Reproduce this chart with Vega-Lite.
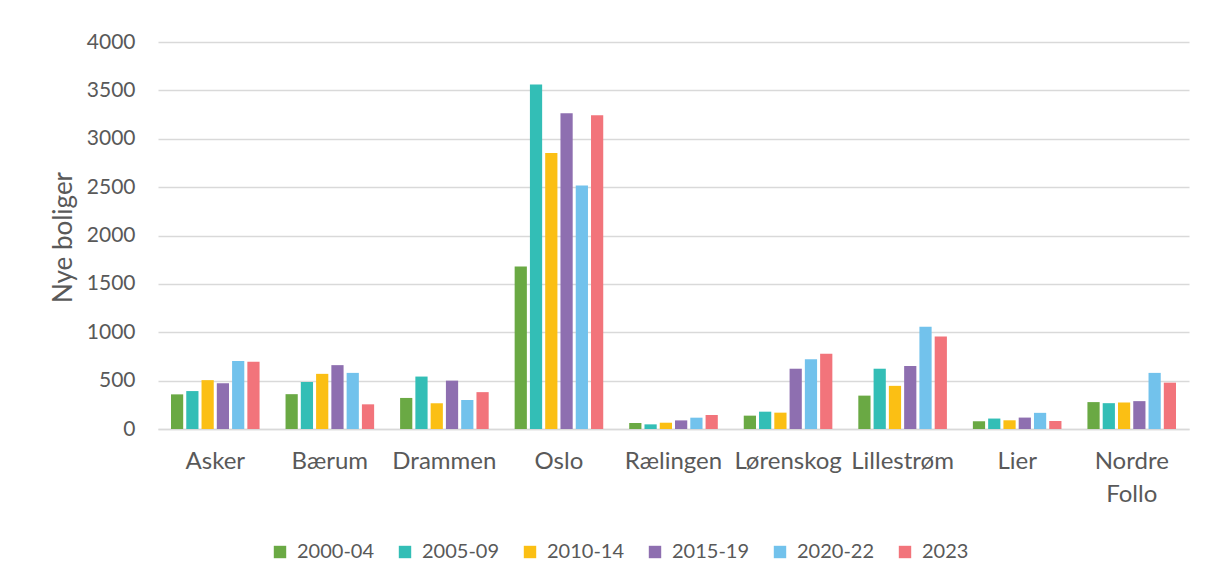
{
  "$schema": "https://vega.github.io/schema/vega-lite/v6.json",
  "width": 1031,
  "height": 387,
  "autosize": {"type": "none"},
  "padding": {"left": 158, "top": 42, "right": 17, "bottom": 152},
  "background": "white",
  "config": {
    "view": {"stroke": null},
    "font": "Lato",
    "axis": {"labelFont": "Lato", "titleFont": "Lato", "labelColor": "#595959", "titleColor": "#595959"},
    "legend": {"labelFont": "Lato"}
  },
  "data": {
    "values": [
      {"kommune": "Asker", "periode": "2000-04", "boliger": 358},
      {"kommune": "Asker", "periode": "2005-09", "boliger": 392},
      {"kommune": "Asker", "periode": "2010-14", "boliger": 505},
      {"kommune": "Asker", "periode": "2015-19", "boliger": 473},
      {"kommune": "Asker", "periode": "2020-22", "boliger": 702},
      {"kommune": "Asker", "periode": "2023", "boliger": 696},
      {"kommune": "Bærum", "periode": "2000-04", "boliger": 360},
      {"kommune": "Bærum", "periode": "2005-09", "boliger": 486},
      {"kommune": "Bærum", "periode": "2010-14", "boliger": 570},
      {"kommune": "Bærum", "periode": "2015-19", "boliger": 660},
      {"kommune": "Bærum", "periode": "2020-22", "boliger": 580},
      {"kommune": "Bærum", "periode": "2023", "boliger": 255},
      {"kommune": "Drammen", "periode": "2000-04", "boliger": 321},
      {"kommune": "Drammen", "periode": "2005-09", "boliger": 542},
      {"kommune": "Drammen", "periode": "2010-14", "boliger": 266},
      {"kommune": "Drammen", "periode": "2015-19", "boliger": 500},
      {"kommune": "Drammen", "periode": "2020-22", "boliger": 300},
      {"kommune": "Drammen", "periode": "2023", "boliger": 381},
      {"kommune": "Oslo", "periode": "2000-04", "boliger": 1679},
      {"kommune": "Oslo", "periode": "2005-09", "boliger": 3561},
      {"kommune": "Oslo", "periode": "2010-14", "boliger": 2854},
      {"kommune": "Oslo", "periode": "2015-19", "boliger": 3264},
      {"kommune": "Oslo", "periode": "2020-22", "boliger": 2517},
      {"kommune": "Oslo", "periode": "2023", "boliger": 3244},
      {"kommune": "Rælingen", "periode": "2000-04", "boliger": 62},
      {"kommune": "Rælingen", "periode": "2005-09", "boliger": 48},
      {"kommune": "Rælingen", "periode": "2010-14", "boliger": 65},
      {"kommune": "Rælingen", "periode": "2015-19", "boliger": 89},
      {"kommune": "Rælingen", "periode": "2020-22", "boliger": 117},
      {"kommune": "Rælingen", "periode": "2023", "boliger": 145},
      {"kommune": "Lørenskog", "periode": "2000-04", "boliger": 138},
      {"kommune": "Lørenskog", "periode": "2005-09", "boliger": 179},
      {"kommune": "Lørenskog", "periode": "2010-14", "boliger": 169},
      {"kommune": "Lørenskog", "periode": "2015-19", "boliger": 623},
      {"kommune": "Lørenskog", "periode": "2020-22", "boliger": 722},
      {"kommune": "Lørenskog", "periode": "2023", "boliger": 778},
      {"kommune": "Lillestrøm", "periode": "2000-04", "boliger": 345},
      {"kommune": "Lillestrøm", "periode": "2005-09", "boliger": 623},
      {"kommune": "Lillestrøm", "periode": "2010-14", "boliger": 446},
      {"kommune": "Lillestrøm", "periode": "2015-19", "boliger": 651},
      {"kommune": "Lillestrøm", "periode": "2020-22", "boliger": 1057},
      {"kommune": "Lillestrøm", "periode": "2023", "boliger": 957},
      {"kommune": "Lier", "periode": "2000-04", "boliger": 80},
      {"kommune": "Lier", "periode": "2005-09", "boliger": 108},
      {"kommune": "Lier", "periode": "2010-14", "boliger": 90},
      {"kommune": "Lier", "periode": "2015-19", "boliger": 118},
      {"kommune": "Lier", "periode": "2020-22", "boliger": 167},
      {"kommune": "Lier", "periode": "2023", "boliger": 83},
      {"kommune": "Nordre Follo", "periode": "2000-04", "boliger": 278},
      {"kommune": "Nordre Follo", "periode": "2005-09", "boliger": 267},
      {"kommune": "Nordre Follo", "periode": "2010-14", "boliger": 274},
      {"kommune": "Nordre Follo", "periode": "2015-19", "boliger": 288},
      {"kommune": "Nordre Follo", "periode": "2020-22", "boliger": 580},
      {"kommune": "Nordre Follo", "periode": "2023", "boliger": 479}
    ]
  },
  "mark": {"type": "bar"},
  "encoding": {
    "x": {
      "field": "kommune",
      "type": "nominal",
      "sort": null,
      "scale": {"paddingInner": 0.2, "paddingOuter": 0.1},
      "axis": {
        "title": null,
        "labelAngle": 0,
        "labelFontSize": 24,
        "labelPadding": 20,
        "labelLineHeight": 33,
        "labelExpr": "split(datum.label, ' ')",
        "ticks": false,
        "domain": true,
        "domainColor": "#D9D9D9",
        "domainWidth": 1.3
      }
    },
    "xOffset": {
      "field": "periode",
      "type": "nominal",
      "sort": null,
      "scale": {"paddingInner": 0.2, "paddingOuter": 0.1}
    },
    "y": {
      "field": "boliger",
      "type": "quantitative",
      "scale": {"domain": [0, 4000], "nice": false},
      "axis": {
        "title": "Nye boliger",
        "titleFontSize": 26,
        "titleFontWeight": "normal",
        "titleAngle": -90,
        "titleX": -95,
        "titleY": 195,
        "titleAlign": "center",
        "titleBaseline": "middle",
        "values": [0, 500, 1000, 1500, 2000, 2500, 3000, 3500, 4000],
        "format": "d",
        "labelFontSize": 21,
        "labelPadding": 23,
        "ticks": false,
        "domain": false,
        "gridColor": "#D9D9D9",
        "gridWidth": 1.3
      }
    },
    "color": {
      "field": "periode",
      "type": "nominal",
      "sort": null,
      "scale": {
        "domain": ["2000-04", "2005-09", "2010-14", "2015-19", "2020-22", "2023"],
        "range": ["#6AA944", "#33BEB6", "#FBBF14", "#8E6FB0", "#72C2EC", "#F2747B"]
      },
      "legend": {
        "title": null,
        "orient": "none",
        "direction": "horizontal",
        "legendX": 112,
        "legendY": 500,
        "symbolType": "square",
        "symbolSize": 154,
        "symbolStrokeWidth": 0,
        "labelFontSize": 20,
        "labelColor": "#595959",
        "labelOffset": 7,
        "columnPadding": 20
      }
    }
  }
}
